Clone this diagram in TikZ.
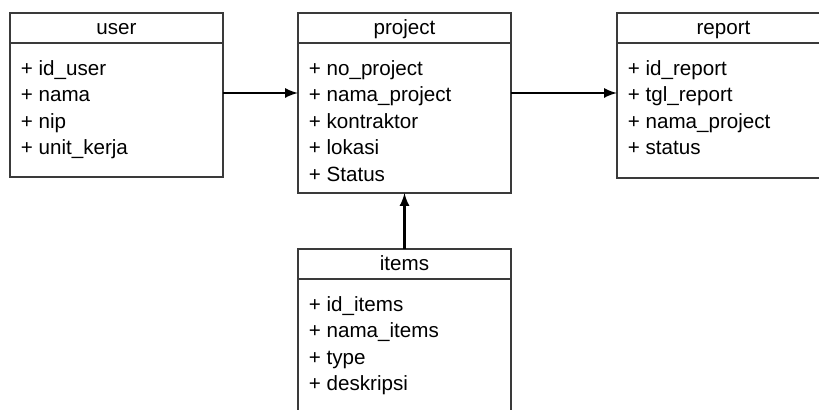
\documentclass[tikz,border=0pt]{standalone}
\usepackage{fontspec}
\setmainfont{Liberation Sans}
\usepackage{tikz}
\usetikzlibrary{positioning}
\definecolor{boxline}{HTML}{3A3A3A}
\tikzset{my arrow/.style={-latex, line width=1.2pt, black}}
\tikzstyle{classhead} = [rectangle, draw=boxline, line width=0.75pt, minimum width=106.5pt, minimum height=15pt, inner sep=0pt, outer sep=0pt, text height=1.6ex, text depth=0.4ex, font=\fontsize{10.3}{12}\selectfont]
\tikzstyle{classbody} = [rectangle, draw=boxline, line width=0.75pt, minimum width=106.5pt, inner sep=0pt, outer sep=0pt]
\tikzstyle{attrs} = [align=left, inner sep=0pt, font=\fontsize{10.3}{13.25}\selectfont]

\begin{document}
\begin{tikzpicture}[x=0.5pt, y=-0.5pt]
  \useasboundingbox (0,0) rectangle (819,410);
  % class headers
  \node [classhead, anchor=north west] (uhead) at (10,13) {user};
  \node [classhead, right=37.5pt of uhead] (phead) {project};
  \node [classhead, right=53pt of phead] (rhead) {report};
  % class bodies
  \node [classbody, minimum height=67pt, below=0pt of uhead] (user) {};
  \node [classbody, minimum height=75pt, below=0pt of phead] (project) {};
  \node [classbody, minimum height=67.5pt, below=0pt of rhead] (report) {};
  \node [classhead, below=28pt of project] (ihead) {items};
  \node [classbody, minimum height=80pt, below=0pt of ihead] (items) {};
  % attributes
  \node [attrs, anchor=north west] (ulist) at ([shift={(10.5,17)}]user.north west)
    {+ id\_user\\+ nama\\+ nip\\+ unit\_kerja};
  \node [attrs, anchor=north west] (plist) at ([shift={(10.5,17)}]project.north west)
    {+ no\_project\\+ nama\_project\\+ kontraktor\\+ lokasi\\+ Status};
  \node [attrs, anchor=north west] (rlist) at ([shift={(10.5,17)}]report.north west)
    {+ id\_report\\+ tgl\_report\\+ nama\_project\\+ status};
  \node [attrs, anchor=north west] (ilist) at ([shift={(10.5,17)}]items.north west)
    {+ id\_items\\+ nama\_items\\+ type\\+ deskripsi};

  \draw [my arrow] ([yshift=8.5pt]user.east) -- ([yshift=8.5pt]user.east -| project.west);
  \draw [my arrow] ([yshift=12.5pt]project.east) -- ([yshift=12.5pt]project.east -| report.west);
  \draw [my arrow] (ihead.north) -- (project.south);
\end{tikzpicture}
\end{document}
